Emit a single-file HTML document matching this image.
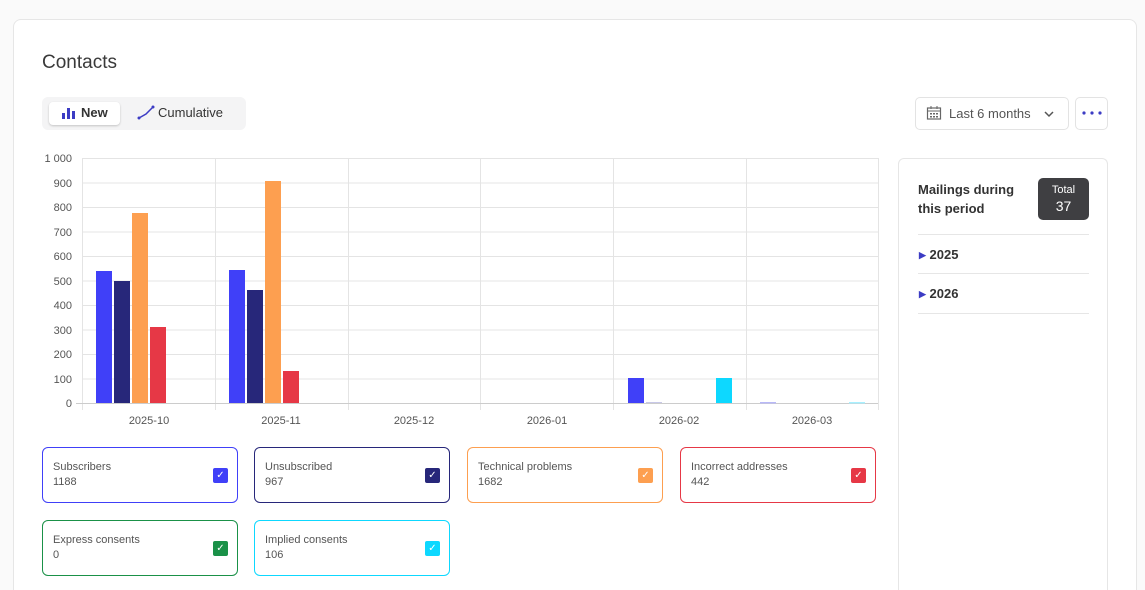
<!DOCTYPE html>
<html style="width:1145px;height:590px;overflow:hidden"><head><meta charset="utf-8"><style>
*{box-sizing:border-box;margin:0;padding:0}
body{width:1145px;height:590px;background:#fafafa;font-family:"Liberation Sans",sans-serif;position:relative;overflow:hidden;color:#333}
.card{position:absolute;left:13px;top:19px;width:1124px;height:571px;background:#fff;border:1px solid #e6e6e6;border-bottom:none;border-radius:8px 8px 0 0}
.abs{position:absolute}
.leg{position:absolute;width:196px;height:56px;border:1px solid;border-radius:6px;background:#fff}
.leg .t{position:absolute;left:10px;top:13px;font-size:11px;color:#555}
.leg .v{position:absolute;left:10px;top:28px;font-size:11px;color:#555}
.leg .c{position:absolute;left:170px;top:20px;width:15px;height:15px;border-radius:2px;color:#fff;font-size:10px;text-align:center;line-height:15px}
</style></head><body>
<div class="card"></div>
<div class="abs" style="left:42px;top:52px;font-size:19px;color:#3a3a3a">Contacts</div>
<div class="abs" style="left:42px;top:97px;width:204px;height:33px;background:#f4f4f5;border-radius:6px"></div>
<div class="abs" style="left:49px;top:102px;width:71px;height:23px;background:#fff;border-radius:4px;box-shadow:0 1px 2px rgba(0,0,0,.2)"></div>
<svg class="abs" style="left:61px;top:106px" width="14" height="14"><rect x="1" y="7" width="3" height="6" fill="#3c3cc4"/><rect x="6" y="2" width="3" height="11" fill="#3c3cc4"/><rect x="11" y="5" width="3" height="8" fill="#3c3cc4"/></svg>
<div class="abs" style="left:81px;top:105px;font-size:13px;font-weight:bold;color:#333">New</div>
<svg class="abs" style="left:137px;top:105px" width="18" height="16"><path d="M2 13 L9 9 L16 2" stroke="#3c3cc4" stroke-width="1.5" fill="none"/><circle cx="2" cy="13" r="1.5" fill="#3c3cc4"/><circle cx="16" cy="2" r="1.5" fill="#3c3cc4"/></svg>
<div class="abs" style="left:158px;top:105px;font-size:13px;color:#333">Cumulative</div>
<div class="abs" style="left:915px;top:97px;width:154px;height:33px;border:1px solid #e3e3e3;border-radius:5px;background:#fff"></div>
<svg class="abs" style="left:926px;top:105px" width="16" height="16"><rect x="1.5" y="3" width="13" height="11" fill="none" stroke="#666" stroke-width="1.2"/><line x1="1.5" y1="6" x2="14.5" y2="6" stroke="#666"/><line x1="5" y1="1" x2="5" y2="4" stroke="#666"/><line x1="11" y1="1" x2="11" y2="4" stroke="#666"/><g fill="#666"><rect x="4" y="8" width="2" height="1.5"/><rect x="7" y="8" width="2" height="1.5"/><rect x="10" y="8" width="2" height="1.5"/><rect x="4" y="11" width="2" height="1.5"/><rect x="7" y="11" width="2" height="1.5"/><rect x="10" y="11" width="2" height="1.5"/></g></svg>
<div class="abs" style="left:949px;top:106px;font-size:13px;color:#555">Last 6 months</div>
<svg class="abs" style="left:1043px;top:108px" width="12" height="12"><path d="M2 4 L6 8 L10 4" stroke="#555" stroke-width="1.5" fill="none"/></svg>
<div class="abs" style="left:1075px;top:97px;width:33px;height:33px;border:1px solid #e3e3e3;border-radius:5px;background:#fff"></div>
<svg class="abs" style="left:1081px;top:110px" width="22" height="6"><circle cx="3" cy="3" r="1.6" fill="#3c3cc4"/><circle cx="11" cy="3" r="1.6" fill="#3c3cc4"/><circle cx="19" cy="3" r="1.6" fill="#3c3cc4"/></svg>

<div class="abs" style="left:898px;top:158px;width:210px;height:432px;border:1px solid #e6e6e6;border-bottom:none;border-radius:6px 6px 0 0;background:#fff"></div>
<div class="abs" style="left:918px;top:180px;font-size:13px;font-weight:bold;line-height:19px;color:#333">Mailings during<br>this period</div>
<div class="abs" style="left:1038px;top:178px;width:51px;height:42px;background:#3f3f42;border-radius:5px;color:#fff;text-align:center;font-size:11px;line-height:14px;padding-top:5px">Total<br><span style="font-size:14px;line-height:19px">37</span></div>
<div class="abs" style="left:918px;top:234px;width:171px;height:1px;background:#e6e6e6"></div>
<div class="abs" style="left:918px;top:273px;width:171px;height:1px;background:#e6e6e6"></div>
<div class="abs" style="left:918px;top:313px;width:171px;height:1px;background:#e6e6e6"></div>
<div class="abs" style="left:919px;top:247px;font-size:13px;font-weight:bold;color:#333"><span style="color:#3c3cc4;font-size:9px;position:relative;top:-1px">&#9654;</span> 2025</div>
<div class="abs" style="left:919px;top:286px;font-size:13px;font-weight:bold;color:#333"><span style="color:#3c3cc4;font-size:9px;position:relative;top:-1px">&#9654;</span> 2026</div>

<svg class="abs" style="left:0;top:0" width="890" height="440" font-family="Liberation Sans, sans-serif" font-size="11" fill="#555">
<g stroke="#e4e4e4" stroke-width="1">
<line x1="82" y1="158.5" x2="878" y2="158.5"/><line x1="82" y1="183" x2="878" y2="183"/><line x1="82" y1="207.5" x2="878" y2="207.5"/><line x1="82" y1="232" x2="878" y2="232"/><line x1="82" y1="256.5" x2="878" y2="256.5"/><line x1="82" y1="281" x2="878" y2="281"/><line x1="82" y1="305.5" x2="878" y2="305.5"/><line x1="82" y1="330" x2="878" y2="330"/><line x1="82" y1="354.5" x2="878" y2="354.5"/><line x1="82" y1="379" x2="878" y2="379"/>
<line x1="82.5" y1="158" x2="82.5" y2="410"/><line x1="215.5" y1="158" x2="215.5" y2="410"/><line x1="348.5" y1="158" x2="348.5" y2="410"/><line x1="480.5" y1="158" x2="480.5" y2="410"/><line x1="613.5" y1="158" x2="613.5" y2="410"/><line x1="746.5" y1="158" x2="746.5" y2="410"/><line x1="878.5" y1="158" x2="878.5" y2="410"/>
</g>
<line x1="76" y1="403.5" x2="878" y2="403.5" stroke="#ccc"/>
<g text-anchor="end">
<text x="72" y="162">1 000</text><text x="72" y="187">900</text><text x="72" y="211">800</text><text x="72" y="236">700</text><text x="72" y="260">600</text><text x="72" y="285">500</text><text x="72" y="309">400</text><text x="72" y="334">300</text><text x="72" y="358">200</text><text x="72" y="383">100</text><text x="72" y="407">0</text>
</g>
<g text-anchor="middle">
<text x="149" y="424">2025-10</text><text x="281" y="424">2025-11</text><text x="414" y="424">2025-12</text><text x="547" y="424">2026-01</text><text x="679" y="424">2026-02</text><text x="812" y="424">2026-03</text>
</g>
<rect x="96" y="271" width="16" height="132" fill="#4040f8"/>
<rect x="114" y="281" width="16" height="122" fill="#27277a"/>
<rect x="132" y="213" width="16" height="190" fill="#fd9f50"/>
<rect x="150" y="327" width="16" height="76" fill="#e63846"/>
<rect x="229" y="270" width="16" height="133" fill="#4040f8"/>
<rect x="247" y="290" width="16" height="113" fill="#27277a"/>
<rect x="265" y="181" width="16" height="222" fill="#fd9f50"/>
<rect x="283" y="371" width="16" height="32" fill="#e63846"/>
<rect x="628" y="378" width="16" height="25" fill="#4040f8"/>
<rect x="646" y="402" width="16" height="1" fill="#c8c8e8"/>
<rect x="716" y="378" width="16" height="25" fill="#0dd8ff"/>
<rect x="760" y="402" width="16" height="1.5" fill="#b8b8f8"/>
<rect x="849" y="402" width="16" height="1.5" fill="#a8f0ff"/>
</svg>

<div class="leg" style="left:42px;top:447px;border-color:#4040f8"><div class="t">Subscribers</div><div class="v">1188</div><div class="c" style="background:#4040f8">&#10003;</div></div>
<div class="leg" style="left:254px;top:447px;border-color:#27277a"><div class="t">Unsubscribed</div><div class="v">967</div><div class="c" style="background:#27277a">&#10003;</div></div>
<div class="leg" style="left:467px;top:447px;border-color:#fd9f50"><div class="t">Technical problems</div><div class="v">1682</div><div class="c" style="background:#fd9f50">&#10003;</div></div>
<div class="leg" style="left:680px;top:447px;border-color:#e63846"><div class="t">Incorrect addresses</div><div class="v">442</div><div class="c" style="background:#e63846">&#10003;</div></div>
<div class="leg" style="left:42px;top:520px;border-color:#1a9148"><div class="t">Express consents</div><div class="v">0</div><div class="c" style="background:#1a9148">&#10003;</div></div>
<div class="leg" style="left:254px;top:520px;border-color:#0dd8ff"><div class="t">Implied consents</div><div class="v">106</div><div class="c" style="background:#0dd8ff">&#10003;</div></div>
</body></html>
